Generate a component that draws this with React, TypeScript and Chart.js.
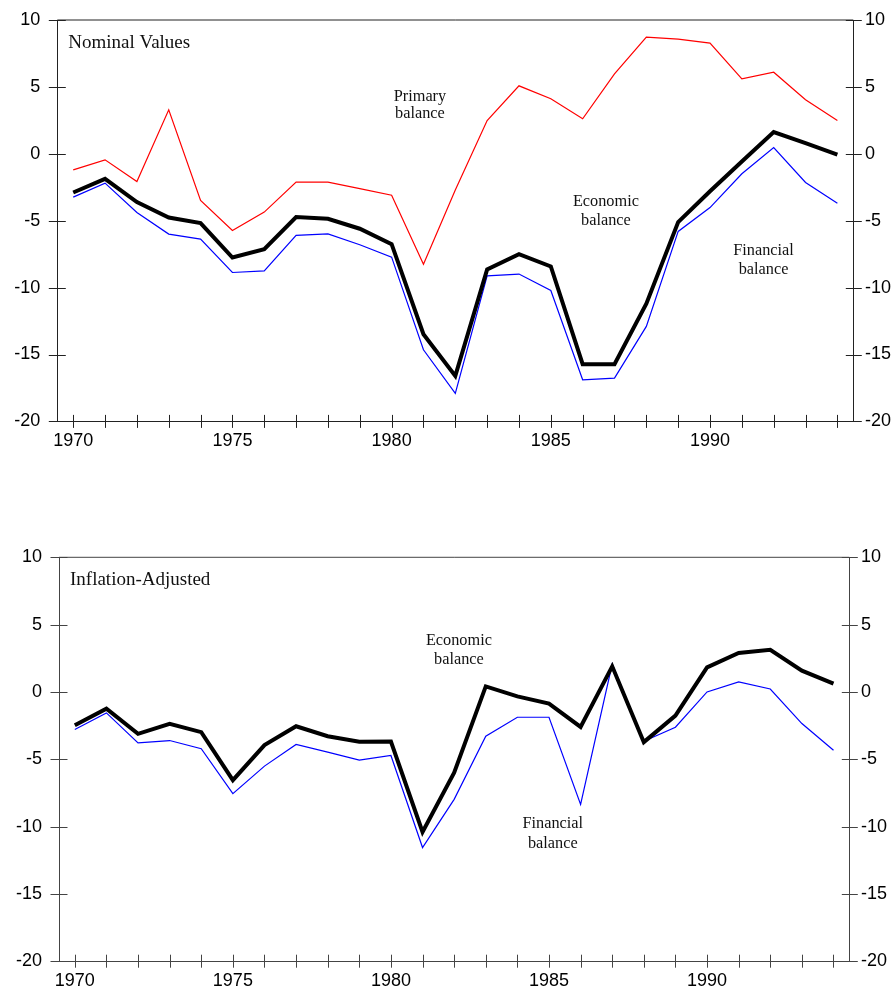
import React, { useEffect, useRef } from "react";
import { Chart, registerables } from "chart.js";

Chart.register(...registerables);

// ---------- DATA ----------
const years = [
  1970, 1971, 1972, 1973, 1974, 1975, 1976, 1977, 1978, 1979, 1980, 1981, 1982,
  1983, 1984, 1985, 1986, 1987, 1988, 1989, 1990, 1991, 1992, 1993, 1994,
];

const nominalPrimary = [
  -1.2, -0.45, -2.07, 3.29, -3.49, -5.73, -4.36, -2.12, -2.12, -2.6, -3.1, -8.25,
  -2.7, 2.49, 5.08, 4.11, 2.62, 5.98, 8.72, 8.57, 8.27, 5.6, 6.1, 4.04, 2.49,
];
const nominalEconomic = [
  -2.89, -1.87, -3.61, -4.76, -5.18, -7.75, -7.13, -4.73, -4.86, -5.6, -6.75,
  -13.48, -16.6, -8.65, -7.5, -8.42, -15.72, -15.72, -11.21, -5.1, -2.8, -0.57,
  1.62, 0.8, -0.07,
];
const nominalFinancial = [
  -3.24, -2.19, -4.39, -6.0, -6.38, -8.87, -8.75, -6.1, -5.98, -6.8, -7.72,
  -14.65, -17.9, -9.12, -8.99, -10.22, -16.89, -16.77, -12.9, -5.8, -4.02, -1.49,
  0.47, -2.14, -3.69,
];
const adjustedEconomic = [
  -2.47, -1.24, -3.11, -2.37, -2.99, -6.55, -3.95, -2.55, -3.29, -3.7, -3.68,
  -10.4, -6.0, 0.41, -0.33, -0.87, -2.6, 1.9, -3.73, -1.76, 1.82, 2.89, 3.13,
  1.58, 0.61,
];
const adjustedFinancial = [
  -2.79, -1.56, -3.78, -3.61, -4.22, -7.56, -5.51, -3.9, -4.47, -5.07, -4.72,
  -11.56, -7.98, -3.29, -1.88, -1.88, -8.35, 2.07, -3.66, -2.62, 0.0, 0.74, 0.22,
  -2.35, -4.33,
];

const yMin = -20;
const yMax = 10;
const yStep = 5;

// annotation anchors in data units (year, value of first baseline)
const nominalTitle = "Nominal Values";
const adjustedTitle = "Inflation-Adjusted";
const nominalNotes = [
  { lines: ["Primary", "balance"], year: 1980.89, value: 3.98, gap: 17 },
  { lines: ["Economic", "balance"], year: 1986.73, value: -3.92, gap: 19 },
  { lines: ["Financial", "balance"], year: 1991.68, value: -7.55, gap: 19 },
];
const adjustedNotes = [
  { lines: ["Economic", "balance"], year: 1982.15, value: 3.5, gap: 19 },
  { lines: ["Financial", "balance"], year: 1985.12, value: -10.07, gap: 20.5 },
];

// ---------- PLUGIN ----------
const framePlugin = {
  id: "frame",
  afterDraw(chart: any, _args: any, opts: any) {
    const { ctx, chartArea: a, scales } = chart;
    ctx.save();
    ctx.strokeStyle = opts.color;
    ctx.lineWidth = 1;
    const line = (x1: number, y1: number, x2: number, y2: number) => {
      ctx.beginPath();
      ctx.moveTo(x1, y1);
      ctx.lineTo(x2, y2);
      ctx.stroke();
    };
    line(a.left, a.top, a.right, a.top);
    const xs = scales.x;
    xs.ticks.forEach((_t: any, i: number) => {
      const px = Math.round(xs.getPixelForTick(i)) + 0.5;
      line(px, a.bottom - 6.5, px, a.bottom + 6.5);
    });
    const yl = scales.y;
    yl.ticks.forEach((_t: any, i: number) => {
      const py = Math.round(yl.getPixelForTick(i)) + 0.5;
      line(a.left - 8.5, py, a.left + 8.5, py);
    });
    const yr = scales.y2;
    yr.ticks.forEach((_t: any, i: number) => {
      const py = Math.round(yr.getPixelForTick(i)) + 0.5;
      line(a.right - 7.5, py, a.right + 8.5, py);
    });

    ctx.fillStyle = "#111";
    ctx.textBaseline = "alphabetic";
    ctx.textAlign = "left";
    ctx.font = '19px "Liberation Serif"';
    ctx.fillText(opts.title, a.left + 11, a.top + 28);

    ctx.textAlign = "center";
    ctx.font = '16.3px "Liberation Serif"';
    (opts.notes || []).forEach((n: any) => {
      const px = xs.getPixelForValue(n.year - years[0]);
      const py = yl.getPixelForValue(n.value);
      n.lines.forEach((t: string, k: number) => {
        ctx.fillText(t, px, py + k * n.gap);
      });
    });
    ctx.restore();
  },
};

// ---------- PANEL ----------
type PanelProps = {
  top: number;
  height: number;
  padTop: number;
  leftW: number;
  rightW: number;
  xH: number;
  xPad: number;
  axisColor: string;
  title: string;
  notes: any[];
  datasets: any[];
};

function Panel(p: PanelProps) {
  const ref = useRef<HTMLCanvasElement | null>(null);
  useEffect(() => {
    if (!ref.current) return;
    const tickFont = { family: '"Liberation Sans", Arial, sans-serif', size: 18 };
    const yCommon = {
      type: "linear",
      min: yMin,
      max: yMax,
      grid: { display: false, drawTicks: false },
      border: { display: true, color: p.axisColor, width: 1 },
    };
    const chart = new Chart(ref.current, {
      type: "line",
      data: { labels: years.map(String), datasets: p.datasets },
      options: {
        responsive: false,
        animation: false,
        events: [],
        layout: { padding: { top: p.padTop, left: 0, right: 0, bottom: 0 } },
        elements: { point: { radius: 0 }, line: { tension: 0 } },
        plugins: {
          legend: { display: false },
          tooltip: { enabled: false },
          frame: { color: p.axisColor, title: p.title, notes: p.notes },
        } as any,
        scales: {
          x: {
            type: "category",
            offset: true,
            grid: { display: false, drawTicks: false },
            border: { display: true, color: p.axisColor, width: 1 },
            ticks: {
              autoSkip: false,
              maxRotation: 0,
              minRotation: 0,
              padding: p.xPad,
              color: "#000",
              font: tickFont,
              callback: (_v: any, i: number) => (years[i] % 5 === 0 ? String(years[i]) : ""),
            },
            afterFit: (s: any) => {
              s.height = p.xH;
            },
          },
          y: {
            ...yCommon,
            position: "left",
            ticks: { stepSize: yStep, padding: 17, color: "#000", font: tickFont },
            afterFit: (s: any) => {
              s.width = p.leftW;
            },
          },
          y2: {
            ...yCommon,
            position: "right",
            ticks: { stepSize: yStep, padding: 11.7, color: "#000", font: tickFont },
            afterFit: (s: any) => {
              s.width = p.rightW;
            },
          },
        } as any,
      },
      plugins: [framePlugin as any],
    });
    return () => chart.destroy();
  }, []);
  return (
    <div style={{ position: "absolute", left: 0, top: p.top, width: 895, height: p.height }}>
      <canvas ref={ref} width={895} height={p.height} style={{ display: "block" }} />
    </div>
  );
}

const line = (data: number[], color: string, width: number) => ({
  data,
  borderColor: color,
  borderWidth: width,
  pointRadius: 0,
  fill: false,
  yAxisID: "y",
  borderJoinStyle: "miter",
});

export default function App() {
  return (
    <div style={{ position: "absolute", left: 0, top: 0, width: 895, height: 989, background: "#fff", overflow: "hidden" }}>
      <Panel
        top={-20}
        height={490}
        padTop={40}
        leftW={57.3}
        rightW={41.7}
        xH={48.6}
        xPad={8.8}
        axisColor="#222"
        title={nominalTitle}
        notes={nominalNotes}
        datasets={[
          line(nominalEconomic, "#000000", 4),
          line(nominalFinancial, "#0000ff", 1.2),
          line(nominalPrimary, "#ff0000", 1.2),
        ]}
      />
      <Panel
        top={500}
        height={489}
        padTop={57.3}
        leftW={59}
        rightW={45.7}
        xH={26.3}
        xPad={9.5}
        axisColor="#444"
        title={adjustedTitle}
        notes={adjustedNotes}
        datasets={[
          line(adjustedEconomic, "#000000", 4),
          line(adjustedFinancial, "#0000ff", 1.2),
        ]}
      />
    </div>
  );
}
